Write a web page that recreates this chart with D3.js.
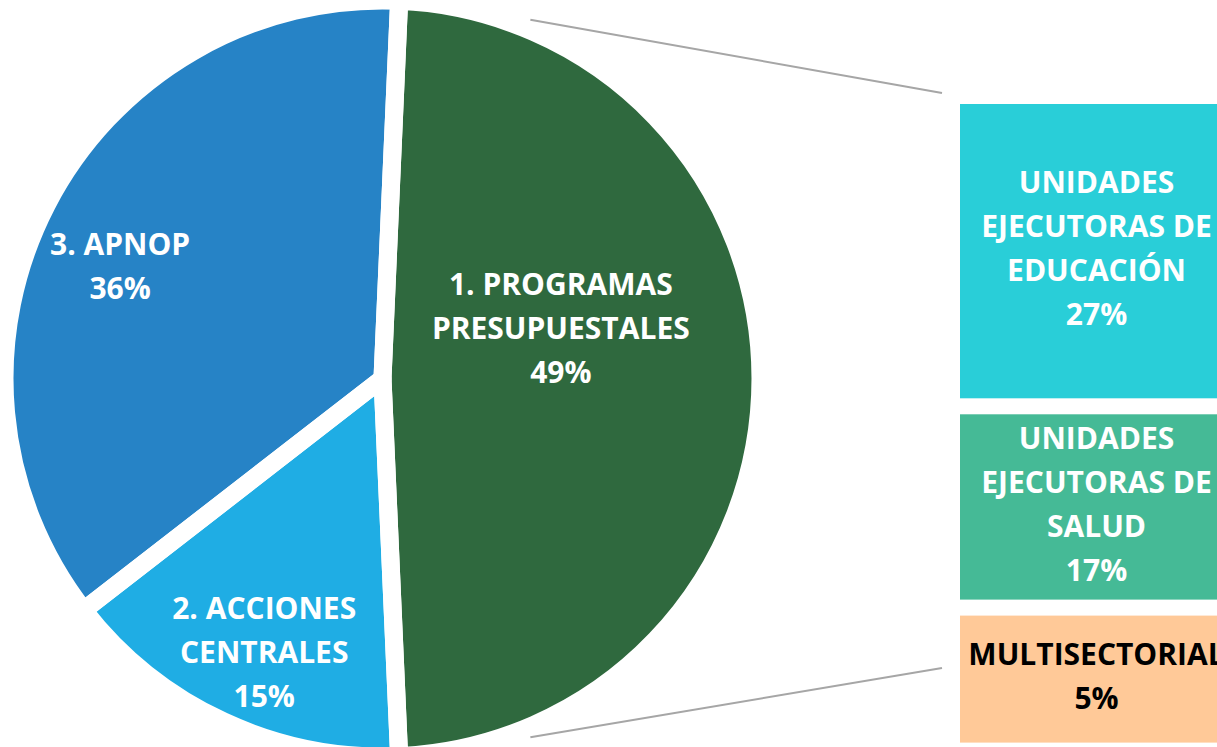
<!DOCTYPE html>
<html>
<head>
<meta charset="utf-8">
<script src="https://cdn.jsdelivr.net/npm/d3@7"></script>
<style>
  html, body { margin: 0; padding: 0; background: #ffffff; }
  svg { display: block; }
  text { font-family: "Open Sans", "DejaVu Sans", sans-serif; font-weight: 700; }
</style>
</head>
<body>
<svg id="chart" width="1217" height="747"></svg>
<script>
// ---------------- DATA ----------------
const pieCategories = ["1. PROGRAMAS\nPRESUPUESTALES", "2. ACCIONES\nCENTRALES", "3. APNOP"];
const pieShares = [48.6, 15.2, 36.2];   // labels show rounded values
const pieColors = ["#2F693E", "#1FADE4", "#2683C6"];

const barCategories = ["UNIDADES\nEJECUTORAS DE\nEDUCACIÓN", "UNIDADES\nEJECUTORAS DE\nSALUD", "MULTISECTORIAL"];
const barShares = [27, 17, 5];
const barColors = ["#29CED8", "#45BA96", "#FFC998"];
const barTextColors = ["#ffffff", "#ffffff", "#000000"];

// ---------------- LAYOUT ----------------
const W = 1217, H = 747;
const cx = 382.5, cy = 378.5, R = 378;
const sliceGap = 18;           // white border between slices
const fontSize = 30, lineH = 44;
// label placement relative to each slice's mid-angle (degrees) and radius fraction
const labelPlacement = [{da: -15.7, rf: 0.49}, {da: -1.5, rf: 0.79}, {da: -4.2, rf: 0.755}];

const barX0 = 960, barX1 = 1233, barTop = 104, barGap = 16;
const minBoxH = 127;
const pxPerPct = 10.9;

const svg = d3.select("#chart");

// ---------------- PIE ----------------
const start = Math.PI / 2 - Math.PI * pieShares[0] / 100;
const pie = d3.pie().sort(null).value(d => d).startAngle(start).endAngle(start + 2 * Math.PI);
const arcs = pie(pieShares);
const arc = d3.arc().innerRadius(0).outerRadius(R);

const gPie = svg.append("g").attr("transform", `translate(${cx},${cy})`);
gPie.selectAll("path.fill").data(arcs).enter().append("path")
  .attr("class", "fill")
  .attr("d", arc)
  .attr("fill", (d, i) => pieColors[i]);
gPie.selectAll("path.gap").data(arcs).enter().append("path")
  .attr("class", "gap")
  .attr("d", arc)
  .attr("fill", "none")
  .attr("stroke", "#ffffff")
  .attr("stroke-width", sliceGap)
  .attr("stroke-linejoin", "round");

// pie labels
arcs.forEach((d, i) => {
  const mid = (d.startAngle + d.endAngle) / 2 + labelPlacement[i].da * Math.PI / 180;
  const r = R * labelPlacement[i].rf;
  const x = r * Math.sin(mid), y = -r * Math.cos(mid);
  const lines = pieCategories[i].split("\n").concat([Math.round(pieShares[i]) + "%"]);
  const t = gPie.append("text")
    .attr("text-anchor", "middle")
    .attr("fill", "#ffffff")
    .attr("font-size", fontSize);
  const y0 = y - (lines.length - 1) * lineH / 2 + fontSize * 0.357;
  lines.forEach((ln, k) => {
    t.append("tspan").attr("x", x).attr("y", y0 + k * lineH).text(ln);
  });
});

// ---------------- BAR (stacked) ----------------
const yScale = d3.scaleLinear().domain([0, 1]).range([0, pxPerPct]);
let yCur = barTop;
const boxes = barShares.map((v, i) => {
  const hProp = yScale(v);
  const h = Math.max(hProp, minBoxH);
  const b = {i, v, y: yCur, h, hProp};
  yCur += h + barGap;
  return b;
});

const gBar = svg.append("g");
gBar.selectAll("rect").data(boxes).enter().append("rect")
  .attr("x", barX0)
  .attr("y", d => d.y)
  .attr("width", barX1 - barX0)
  .attr("height", d => d.h)
  .attr("fill", d => barColors[d.i]);

boxes.forEach(b => {
  const lines = barCategories[b.i].split("\n").concat([barShares[b.i] + "%"]);
  const xc = (barX0 + barX1) / 2;
  const yc = b.y + b.h / 2 - 3;
  const t = gBar.append("text")
    .attr("text-anchor", "middle")
    .attr("fill", barTextColors[b.i])
    .attr("font-size", fontSize);
  const y0 = yc - (lines.length - 1) * lineH / 2 + fontSize * 0.357;
  lines.forEach((ln, k) => {
    t.append("tspan").attr("x", xc).attr("y", y0 + k * lineH).text(ln);
  });
});

// ---------------- CONNECTORS ----------------
const connAngle = 22.4 * Math.PI / 180;
const connR = R + 10;
const greenMid = Math.PI / 2;
const last = boxes[boxes.length - 1];
const propBottom = last.y + last.hProp;
const connectors = [
  {a: greenMid - (Math.PI / 2 - connAngle), ex: barX0 - 18, ey: barTop - 11},
  {a: greenMid + (Math.PI / 2 - connAngle), ex: barX0 - 18, ey: propBottom - 2}
];
svg.selectAll("line.conn").data(connectors).enter().append("line")
  .attr("class", "conn")
  .attr("x1", d => cx + connR * Math.sin(d.a))
  .attr("y1", d => cy - connR * Math.cos(d.a))
  .attr("x2", d => d.ex)
  .attr("y2", d => d.ey)
  .attr("stroke", "#A6A6A6")
  .attr("stroke-width", 2);
</script>
</body>
</html>
